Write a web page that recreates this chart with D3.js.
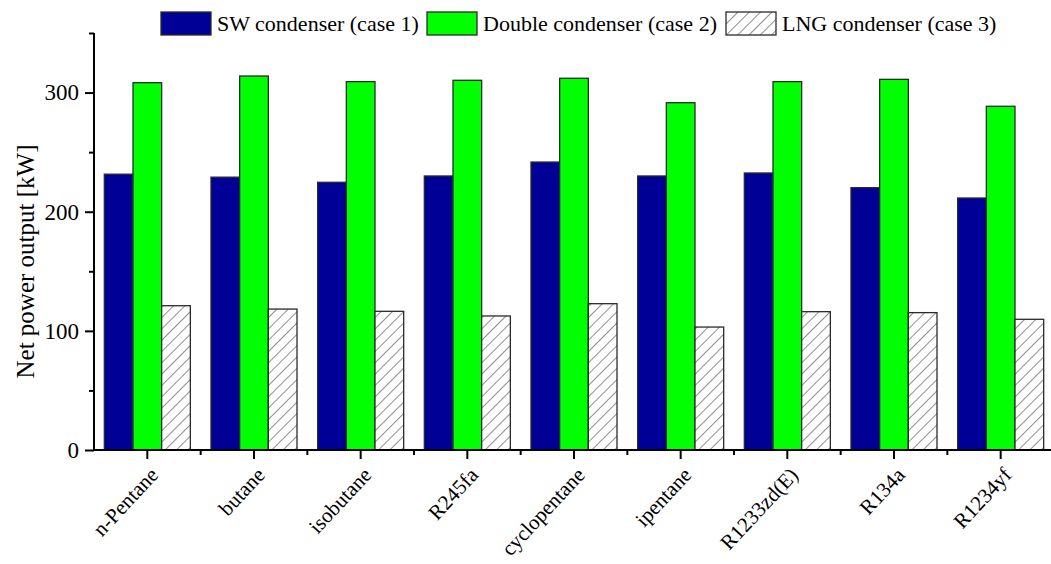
<!DOCTYPE html>
<html>
<head>
<meta charset="utf-8">
<script src="https://cdn.jsdelivr.net/npm/d3@7"></script>
<style>
  html, body { margin: 0; padding: 0; background: #fff; }
  svg { display: block; }
  text { font-family: "Liberation Serif", "Times New Roman", serif; fill: #000; }
</style>
</head>
<body>
<svg id="chart" width="1051" height="564"></svg>
<script>
const categories = ["n-Pentane", "butane", "isobutane", "R245fa", "cyclopentane", "ipentane", "R1233zd(E)", "R134a", "R1234yf"];
const seriesNames = ["SW condenser (case 1)", "Double condenser (case 2)", "LNG condenser (case 3)"];
const swValues = [231.5, 229, 224.7, 230, 241.7, 230, 232.5, 220.2, 211.5];
const doubleValues = [308.3, 313.9, 309.2, 310.3, 312, 291.5, 309.2, 311.1, 288.5];
const lngValues = [121.1, 118.3, 116.4, 112.5, 122.8, 103.2, 116.1, 115.3, 109.7];
const yMajorTicks = [0, 100, 200, 300];
const yMinorTicks = [50, 150, 250, 350];

const seriesValues = [swValues, doubleValues, lngValues];
const fills = ["#000096", "#00ff00", "url(#hatch)"];

const svg = d3.select("#chart");
const defs = svg.append("defs");
const pat = defs.append("pattern")
  .attr("id", "hatch").attr("patternUnits", "userSpaceOnUse")
  .attr("width", 8).attr("height", 8)
  .attr("patternTransform", "rotate(45)");
pat.append("rect").attr("width", 8).attr("height", 8).attr("fill", "#fff");
pat.append("line").attr("x1", 0).attr("y1", 0).attr("x2", 0).attr("y2", 8)
  .attr("stroke", "#333").attr("stroke-width", 1.1);

const x0 = d3.scaleBand().domain(categories).range([94, 1054]).paddingInner(0).paddingOuter(0);
const x1 = d3.scaleBand().domain(seriesNames).range([0, x0.bandwidth()]).paddingInner(0).paddingOuter(0.36);
const y = d3.scaleLinear().domain([0, 350]).range([450, 33]);

// bars
const groups = svg.append("g").selectAll("g").data(categories).join("g")
  .attr("transform", d => `translate(${x0(d)},0)`);
groups.selectAll("rect").data((d, i) => seriesNames.map((s, j) => ({ s, j, v: seriesValues[j][i] })))
  .join("rect")
  .attr("x", d => x1(d.s))
  .attr("y", d => y(d.v))
  .attr("width", x1.bandwidth())
  .attr("height", d => y(0) - y(d.v))
  .attr("fill", d => fills[d.j])
  .attr("stroke", "#2a2a2a")
  .attr("stroke-width", 1.3);

// y axis
const yAxis = svg.append("g").attr("transform", "translate(94,0)")
  .call(d3.axisLeft(y).tickValues(yMajorTicks).tickSize(9).tickPadding(6).tickFormat(d3.format("d")));
yAxis.select(".domain").attr("stroke", "#000").attr("stroke-width", 2).attr("d", `M0,${y(350)}V${y(0)}`);
yAxis.selectAll(".tick line").attr("stroke", "#000").attr("stroke-width", 2);
yAxis.selectAll(".tick text").style("font-size", "23px").style("font-family", "Liberation Serif");
svg.append("g").attr("transform", "translate(94,0)")
  .call(d3.axisLeft(y).tickValues(yMinorTicks).tickSize(5).tickFormat(""))
  .call(g => g.select(".domain").remove())
  .selectAll(".tick line").attr("stroke", "#000").attr("stroke-width", 2);

// x axis
const xAxis = svg.append("g").attr("transform", `translate(0,${y(0)})`)
  .call(d3.axisBottom(x0).tickSize(9).tickFormat(""));
xAxis.select(".domain").attr("stroke", "#000").attr("stroke-width", 2).attr("d", `M94,0H1054`);
xAxis.selectAll(".tick line").attr("stroke", "#000").attr("stroke-width", 2);
// minor ticks at band boundaries
svg.append("g").selectAll("line").data(categories.slice(1))
  .join("line")
  .attr("x1", d => x0(d)).attr("x2", d => x0(d))
  .attr("y1", y(0)).attr("y2", y(0) + 5)
  .attr("stroke", "#000").attr("stroke-width", 2);

// x labels
svg.append("g").selectAll("text").data(categories).join("text")
  .attr("text-anchor", "end")
  .attr("transform", d => `translate(${x0(d) + x0.bandwidth() / 2 + 12},${y(0) + 26}) rotate(-47)`)
  .style("font-size", "21px")
  .text(d => d);

// y label
svg.append("text")
  .attr("text-anchor", "middle")
  .attr("transform", `translate(34,${(y(0) + y(350)) / 2 + 20}) rotate(-90)`)
  .style("font-size", "25px")
  .text("Net power output [kW]");

// legend
const legendX = [161, 427, 726];
const leg = svg.append("g").selectAll("g").data(seriesNames).join("g")
  .attr("transform", (d, i) => `translate(${legendX[i]},12)`);
leg.append("rect").attr("width", 50).attr("height", 23)
  .attr("fill", (d, i) => fills[i]).attr("stroke", "#2a2a2a").attr("stroke-width", 1.3);
leg.append("text").attr("x", 56).attr("y", 19).style("font-size", "22px").text(d => d);
</script>
</body>
</html>
